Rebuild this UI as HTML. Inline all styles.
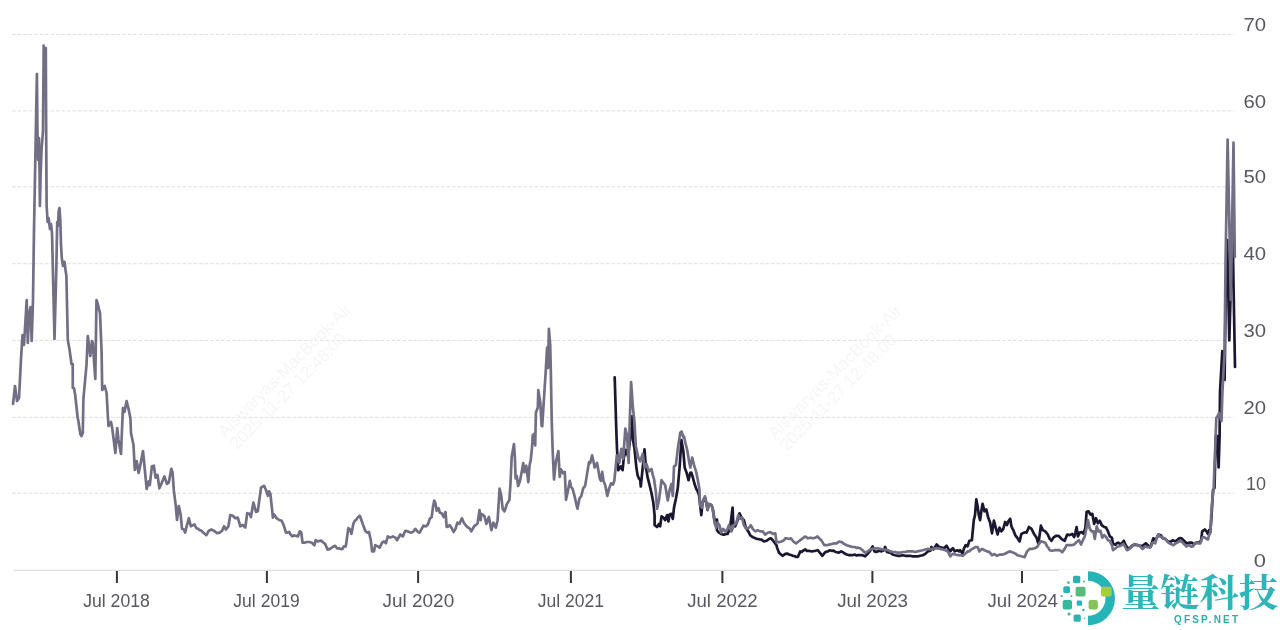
<!DOCTYPE html>
<html><head><meta charset="utf-8"><title>Chart</title>
<style>
html,body{margin:0;padding:0;background:#fff;}
body{width:1280px;height:630px;overflow:hidden;}
svg{display:block;}
.grid line{stroke:#dedede;stroke-width:1;stroke-dasharray:3.7 1.8;}
.wm text{font-family:'Liberation Sans',sans-serif;font-size:17px;fill:#f6f6f6;}
.axis{stroke:#e0e0e0;stroke-width:1.3;}
.ticks line{stroke:#35353b;stroke-width:2;}
.lab text{font-family:'Liberation Sans',sans-serif;font-size:17.6px;fill:#58575f;}
.ylab text{text-anchor:end;}
.xlab text{text-anchor:middle;}
.s{fill:none;stroke-width:2.7;stroke-linejoin:round;stroke-linecap:round;}
</style></head><body>
<svg width="1280" height="630" viewBox="0 0 1280 630">
<rect width="1280" height="630" fill="#fff"/>
<g class="grid"><line x1="12" y1="34.4" x2="1234" y2="34.4"/><line x1="12" y1="110.9" x2="1234" y2="110.9"/><line x1="12" y1="186.8" x2="1234" y2="186.8"/><line x1="12" y1="263.7" x2="1234" y2="263.7"/><line x1="12" y1="340.4" x2="1234" y2="340.4"/><line x1="12" y1="417.4" x2="1234" y2="417.4"/><line x1="12" y1="493.2" x2="1234" y2="493.2"/></g>
<g class="wm"><g transform="translate(225,438) rotate(-45)"><text x="0" y="0">Aiswaryas-MacBook-Air</text><text x="-0.5" y="17">2025-11-27 12:48:00</text></g><g transform="translate(775,439.5) rotate(-45)"><text x="0" y="0">Aiswaryas-MacBook-Air</text><text x="-0.5" y="17">2025-11-27 12:48:00</text></g></g>
<line class="axis" x1="13.5" y1="570.4" x2="1235" y2="570.4"/>
<g class="ticks"><line x1="116.9" y1="571" x2="116.9" y2="583"/><line x1="266.9" y1="571" x2="266.9" y2="583"/><line x1="418.1" y1="571" x2="418.1" y2="583"/><line x1="570.9" y1="571" x2="570.9" y2="583"/><line x1="722.4" y1="571" x2="722.4" y2="583"/><line x1="872.4" y1="571" x2="872.4" y2="583"/><line x1="1022" y1="571" x2="1022" y2="583"/></g>
<polyline class="s" stroke="#1b1731" points="614.7,377.3 616.3,430 617,448.8 618.2,470.2 620.7,466.4 622.6,470.2 623.8,457.6 626,450 628,456 630,440 632,416.4 633,440 634.5,448.8 636.4,467.6 637.6,475.2 638.9,478.52 640.2,480.2 640.8,486.5 642.7,467.6 644.5,449.4 645.8,466.4 647.7,477.7 649.6,485.2 651.4,492.7 653.3,502.5 654.6,515.1 654.6,525.1 657.1,527 659,523.9 660.2,526.4 661.5,516.3 663.4,517.6 665.2,520.1 667.1,515.1 668.4,521.4 669.6,514.5 671.5,513.8 672.8,518.9 674,507.6 675.9,498.8 677.8,488 679.7,466 681.4,440 683.4,452 684.7,467.6 686.6,472.7 688.5,480.2 690.3,472.7 691.3,472.5 693,478 694.65,484.31 696.3,489 697.7,491.3 699.1,495.2 701.3,515.1 702.5,502.6 705,497.6 706.3,503.05 707.6,510 708.8,504 711.3,505 712.6,508 714.5,520 717,519.5 717,530.2 718.43,532.07 719.87,533.16 721.3,534 722.9,534.61 724.5,534.6 726.05,533.95 727.6,534 730.1,527.7 732.6,507.6 733.3,523.9 735.1,526.4 737.6,520.2 739.5,513.3 741.4,517.6 743.9,520.2 745.8,527.7 748.3,531.4 750.2,535.2 752.7,537.1 755.2,538.3 756.75,538.84 758.3,539 759.9,539.49 761.5,539.6 764,541.5 766.5,540.8 769,539 770.9,538.3 772.8,540.2 774.6,542.7 776.5,545.2 777.1,547.6 779,552.7 780.9,554.4 782.8,555.8 785.3,553.9 787.2,553.59 789.1,554.5 790.95,555.03 792.8,555.8 794.47,556.01 796.13,557 797.8,557 800.3,551.4 801.6,551.99 802.9,550.8 805.4,549.5 806.95,550.96 808.5,550.8 810.4,551.18 812.3,551.4 813.85,551 815.4,550.8 817.9,550.2 819.8,552.7 822.3,555.8 824.8,552.7 826.35,551.63 827.9,551.4 829.8,550.26 831.7,550.8 833.6,550.55 835.5,552 837.05,552.29 838.6,552.7 841.1,551.4 842.65,552.02 844.2,553.3 846.7,554.5 849.2,555.2 850.85,554.98 852.5,555.2 855,554.5 856.3,555.56 857.6,555.2 860.1,555.2 862.6,555.2 865.1,556.4 867.6,553.9 870.1,550.8 872.6,546.4 874.5,551.4 876.4,552 878.9,550.8 881.4,551.4 883.9,550.2 885.1,547 887,552 888.6,552.4 890.2,552.7 892.7,554.5 895.2,555.2 897.7,555.8 900.2,555.8 902.7,555.2 905.2,555.8 907.7,555.8 910.2,555.8 912.7,556.4 915.2,556.4 917.7,556.4 920.3,555.8 922.8,555.2 925.3,553.9 927.8,551.4 930.3,550.8 931.5,547 933.4,549.5 935,547.11 936.6,544.5 939.1,547 941.6,547.6 944.1,548.3 946.6,545.8 949.1,550.2 950.3,551.4 951.6,549.38 952.9,548.3 954.7,551.4 957.2,550.2 959.1,551.4 960,550.2 962.5,553.3 964.05,548.39 965.6,545.2 967.5,546.4 969.4,540.8 971.9,540.2 973.8,520.1 975,515.1 976.3,499.4 977.6,506.3 978.8,515.1 980.1,520.1 981.3,511.3 982.6,503.8 984.5,511.3 986.3,509.4 988.2,517.6 990.1,522.6 992,533.3 993.9,520.7 995.7,527.6 997.6,534.5 999.5,527.6 1001.4,531.4 1003.3,528.9 1005.1,522 1007,525.1 1008.3,521.3 1010.2,518.8 1011.4,526.4 1013.3,530.1 1015.2,535.1 1017.1,537.6 1019.6,541.4 1021.4,533.9 1023.9,532.6 1025.2,532.29 1026.5,532.6 1029,527 1031.5,528.9 1034,533.9 1036.5,537.6 1038.4,543.9 1040.9,525.7 1042.8,530.1 1045.3,531.4 1047.8,534.5 1049.7,538.9 1051.5,540.8 1053.4,537.6 1055.9,535.8 1058.4,535.8 1060.3,537.6 1062.2,539.5 1064.7,540.8 1067.2,534.5 1069.7,535.1 1072.2,533.9 1074.1,537 1075.4,532.6 1076.6,527 1077.9,536.4 1079.7,532.6 1081.6,532 1083.5,533.9 1085.4,527.6 1086.6,511.9 1088.5,511.3 1090.4,514.5 1092.3,513.8 1094.2,523.9 1096,518.2 1097.9,523.2 1099.8,520.7 1101.7,525.1 1104.2,527 1106.1,527.6 1108,531.4 1109.8,536.4 1111.9,537.7 1113.1,544 1115.6,544.6 1116.9,543 1118.2,542.7 1120,544 1121.9,543.3 1123.8,540.8 1125.7,545.2 1127.6,548.3 1130.1,547.7 1132.6,545.2 1135.1,544.6 1137.6,545.2 1140.1,545.8 1142.6,545.8 1144.2,544.57 1145.8,543.3 1148.3,545.8 1150.8,546.5 1153.3,538.3 1155.2,539.6 1156.75,537.95 1158.3,534.5 1160.8,535.2 1162.7,538.3 1165.2,538.9 1167.7,541.4 1170.2,542.1 1172.7,540.2 1175.2,541.4 1176.8,540.46 1178.4,538.9 1179.95,538.03 1181.5,538.3 1184,540.8 1186.5,543.3 1189,542.7 1191.6,542.7 1194.1,544 1196.6,542.7 1199.1,542.7 1201,540.8 1202.2,531.4 1204.7,529.5 1206.6,531.4 1207.9,533.9 1209.1,530.2 1210.4,531.4 1211.6,515 1213,490 1214.5,488 1215.8,436 1217.5,436 1218.6,467.5 1219.6,436 1220,392 1221.5,365 1222.3,351 1223.3,360 1224.6,380 1225.6,300 1227.2,240 1229.3,340.5 1232.5,227 1235,367"/>
<polyline class="s" stroke="#726f85" points="13,404 15,386 17,401 19,398 21,359 22.5,335 24,345 26.7,300 27.8,343 29,315 30.5,307 31.7,341 33,300 34,230 35.5,150 36.9,74 37.5,135 38.2,160 39,138 39.6,175 39.9,206 40.6,175 41.5,150 43,131 43.7,45.5 44.7,72 45.8,48 46.1,120 46.6,205 47.6,222 48.6,218 50,229 51,224 52,233 52.9,270 54.5,339 56.3,270 57.2,222 58,226 58.7,211 59.5,208 60.4,222 61,245 61.8,258 63,266 64.5,262 65.5,270 66.4,276 67.8,340 69.6,350 71.5,364 72.7,364 72.8,388 74,388 75.2,395 77.7,418 78.4,421 80.3,434 81.5,436 82.8,433 83.4,399 86.5,365 87.8,336 90.3,356 92,341 92.8,343 95.3,379 96.5,300 98,305 100,313 101.6,352 102.2,390 104.7,386 106.6,393 107.8,415 108.5,426 111,422 112.2,428 115.4,453 117.2,428 118.5,440 121,454 122.9,408 124.5,412 126.6,401 128.5,408.84 130.4,418 131,433 133.5,445 134.8,470 136.7,461 138.6,473 140.07,466.29 141.53,458.81 143,451 146.7,489 148.6,481.5 149.8,485 151.9,466.3 153.8,465.7 155.6,477.6 157.5,475 159.4,488.3 161.9,482.6 164.4,476.4 166.9,483.9 168.8,482.6 171.3,468.8 172.6,472.6 173.8,490.2 175.7,505.2 177,520 178.8,506 180.7,515 182,528.8 183.9,529.5 185.1,532.6 187,525 188.9,518.2 190.8,526.3 193.3,525 194.5,524.5 196.4,528.2 197.95,528.66 199.5,530 201.4,530.7 203.9,533.2 206.4,535.1 208.9,530.7 211.4,529.5 213.9,530.7 215.5,531.94 217.1,533.2 219.6,532.6 222.1,530.7 224,526.3 225.9,529.5 228.4,526.3 230.3,515 232.8,515.7 235.3,518.2 237.8,517.6 240.3,526.3 242.8,525 245.3,527.6 247.2,513.2 249.7,513.8 250.9,517 253.4,502.5 256,511.9 257.8,511.3 261,487.6 262.55,486.61 264.1,485.8 266,490 267.9,495.8 269.1,491.4 270.4,494 272.9,517.6 274.1,514.4 276.6,518.2 279.2,520 281.7,520.7 283.6,525 286,532.6 287.6,532.57 289.2,532 290.75,534.72 292.3,536.4 293.9,535.32 295.5,535.7 298,536.4 299.8,531.3 301.3,532.6 302.5,542.7 304.4,542.7 306.9,542 309.4,542 311.9,542.7 314.4,545.2 315.7,540.2 317.6,541.4 320,540.8 321.3,540.55 322.6,542 325.1,543.9 327.6,549.6 330.1,548.9 332.6,547 335.1,545.8 337,548.3 339.5,548.3 341.05,549.2 342.6,548.9 343.9,546.4 345.8,546.4 348.3,528.2 350.2,529.5 351.4,533.9 353.3,523.9 354.5,521.3 356.4,519.5 357.7,517.6 359.6,515.7 360.8,518.2 362.7,523.9 365.2,530.8 367.1,532.6 369,532 370.8,540.2 372.1,551.4 374,551.4 375.2,545.2 377.7,546.4 379.6,547.7 382.1,542.7 384,541.4 385.9,543.3 387.8,536.4 390.3,537.6 392.8,536.4 395.3,537.6 397.2,540.2 398.75,537.23 400.3,534.5 402.8,536.4 405.3,530.8 407.8,531.4 410.3,532.6 412.9,532 415.4,528.9 417.9,532 419.7,532.6 421.6,528.9 423.5,525.7 426,526.4 427.9,524.5 429.8,518.8 431.7,517 432.9,507.6 434.2,500.7 435.4,503.2 436.7,510.7 438.6,508.2 439.8,512.6 441.7,513.2 443.6,517 445.5,511.9 446.7,527 448.25,526.52 449.8,525.1 451.7,528.2 453.6,532 455.5,528.9 457.4,522.6 459.4,523.9 461.9,518.3 463.8,522.7 465.7,525.2 468.2,527.7 469.75,528.65 471.3,531.4 472.9,528.5 474.5,525.8 476.05,524.95 477.6,523.3 479.5,510.1 480.7,520.2 481.3,513.9 482.9,514.66 484.5,516.4 486.4,523.9 488.9,517 491.4,530.2 493.3,522.7 495.8,527.7 497.6,520.2 499.6,488.7 501.2,495.5 502.7,508.9 504.5,511.4 507,503.9 509.4,500 510.5,483.5 511.7,456.8 514,444.1 514.9,458.1 515.6,478.4 516.8,475.9 518.1,486 520,481 521.9,470.8 523.2,463.2 524.4,472.1 526.3,465.7 528.3,482.2 529.5,465.7 530.8,459.4 532.1,446.7 532.7,435.2 534,434 535.2,445.4 535.9,412.6 537.8,407.5 538.3,390.2 540.3,402.5 541.6,425.7 542.2,426.3 543.4,407.5 545.8,370.2 547.1,347.6 548,368 548.9,328.8 550.2,345 550.8,370.2 551.7,420 552.7,451.6 554,479.5 555.9,461.7 558.4,451 559.7,477 561,469.4 562.9,473.2 564.8,471.9 566,499.8 567.9,491 569.8,480.8 571.1,487.1 572.4,488.4 574.9,497.3 576.2,503.8 577.5,508.7 579.4,498.6 581.3,496 583.2,488.4 585.1,485.9 587,474.4 588.9,462.4 590.2,463 592.1,455.4 593.3,460.5 594.6,467.5 597.1,463 598.4,470.6 599.7,478.3 601,480.8 602.2,471.9 603.5,480.8 605.4,485.9 607.3,496 609.2,488.4 611.1,483.3 613,484.6 614.3,480.8 615.6,468.1 616.8,455.4 618.1,460.5 619.4,462.6 621.3,448.8 623.2,458.9 625.3,428.5 627,435 628.6,463 629.8,420 631.1,382 632.9,407.6 634.5,422.7 635.8,446.3 638.3,457.6 640.2,461.4 642.7,453.8 644.5,467.6 646.4,463.9 648.9,471.4 651.4,468.9 652.7,474.62 654,478.9 655.8,491.5 657.1,508.8 659,500 661.5,480.2 663.4,482.7 665.2,485.2 667.8,500.5 669.6,490.2 671.5,484 672.8,496 674,466.4 675.9,465.1 677.8,448.8 680.3,432.5 681.6,431.5 683.4,437.5 684.1,436.5 685.3,442.5 687.2,450 689.1,461.4 690.3,467.6 692.2,457.6 694.1,465.1 696,471.4 697.9,480.2 698.2,482.5 699.4,488.8 700,505.1 701.9,507.6 703.2,500.1 705,496.3 706.3,502.36 707.6,510.1 708.8,503.9 711.3,505.1 712.6,507.6 714.5,522.7 716.3,527.7 717.6,522.7 719.5,525.2 721.3,532.7 723.2,528.9 725.1,531.4 727,530.2 728.9,525.2 731.4,531.4 733.9,525.2 736.4,522.7 738.3,515.1 740.2,518.9 742,517.6 743.9,525.2 746.4,528.9 748.9,527.7 750.8,525.2 752.7,528.9 755.2,531.4 757.7,530.2 760.2,531.4 762.7,531.4 765.2,534.6 767.7,532.7 770.3,532.1 772.8,533.9 775.3,533.3 776.5,542.1 779,542.1 781.5,541.5 784,540.2 785.3,538.4 786.6,538.3 789.1,539 790.9,538.3 793.4,541.5 794.7,542.52 796,543.4 798.5,541.5 801,539.6 803.5,537.7 805.4,536.5 807.9,538.3 810.4,537.7 812.9,538.3 815.4,537.7 817.3,536.5 819.2,538.3 821.7,540.8 824.2,545.2 826.7,545.2 829.2,544.6 831.7,544 834.2,543.4 836.7,543.4 839.2,541.5 841.7,542.1 844.2,544 846.7,545.2 849.2,546 850,546.4 852.5,547 855,547 856.3,548.09 857.6,547.6 860.1,548.3 862.6,550.2 865.1,552.7 867.6,551.4 870.1,549.5 872.6,548.9 875.1,548.3 877.6,548.3 880.1,548.9 882.6,549.5 885.1,549.5 887.6,550.2 888.9,550.59 890.2,551.4 892.7,552 895.2,552 897.7,552.7 900.2,552.7 902.7,552 905.2,552 907.7,551.4 910.2,551.4 912.7,551.4 915.2,552 917.7,551.4 920.3,550.8 922.8,550.2 925.3,549.5 927.8,548.9 930.3,549.5 932.8,548.9 935.3,548.3 937.8,548.3 940.3,548.9 942.8,549.5 945.3,550.2 947.8,551.4 950.3,556.4 951.6,554.64 952.9,553.9 955.4,554.5 957.9,555.2 960.4,555.2 962.9,555.8 964.6,554.11 966.3,552.7 967.85,551.2 969.4,551.4 970.95,549.65 972.5,548.9 974.1,547.84 975.7,547 977.6,547 979.4,551.4 981.9,548.9 983.2,549.54 984.5,550.2 987,551.4 989.5,552.1 992,555.2 994.5,554 997,555.8 999.5,554.6 1002,554.6 1004.5,554 1007,552.7 1009.5,551.4 1012,552.1 1014.5,553.3 1015.8,553.77 1017.1,555.2 1019.6,555.8 1022.1,556.5 1024.6,557.1 1027.1,551.4 1029.6,548.9 1032.1,548.9 1034.6,548.3 1037.1,547 1039,543.9 1040.9,541.4 1043.4,542 1045.3,542.7 1047.1,546.4 1048.4,547.82 1049.7,550.2 1052.2,550.8 1054.7,550.2 1057.2,550.2 1059.7,550.2 1062.2,552.1 1064.7,548.9 1066.6,545.2 1069.1,545.2 1071.6,545.2 1074.1,544.5 1076.6,542 1079.1,540.2 1081,544.5 1082.9,540.2 1084.8,536.4 1086.6,527.6 1087.9,520.1 1089.8,528.9 1091.7,531.4 1093.5,531.4 1094.8,538.9 1096.7,526.4 1098.6,531.4 1100.4,530.8 1102.3,537.6 1104.2,535.1 1106.1,537 1108,540.2 1109.8,540.8 1111.9,545.2 1113.1,550.2 1115.6,548.3 1116.9,546.89 1118.2,546.5 1120.7,545.8 1123.2,543.9 1125.1,546.5 1126.9,550.2 1129.4,549 1132,546.5 1134.5,544 1137,544.6 1139.5,545.8 1141.05,547.33 1142.6,549 1145.1,546.5 1147.6,547.1 1148.9,547.02 1150.2,547.7 1152.7,542.7 1155.2,543.3 1156.75,538.04 1158.3,534.5 1159.85,536.41 1161.4,537.1 1164,538.3 1165.8,539.6 1168.3,542.7 1169.6,543.45 1170.9,544 1173.4,545.2 1175.9,543.3 1177.45,542.61 1179,541.4 1181.5,541.4 1184,544 1186.5,546.5 1188.1,545.28 1189.7,545.2 1191.25,546.74 1192.8,546.5 1195.3,542.7 1197.8,543.3 1200.3,543.3 1202.2,537.7 1204.1,537.1 1206.6,538.9 1207.9,539.6 1209.1,535.2 1210.4,532.7 1211.2,515 1212.3,500 1213.7,488 1214.3,470 1215.5,440 1216.3,418 1217.65,416.15 1219,413 1221.5,421 1222.3,395 1223.5,370 1224.5,355 1225.6,260 1227.6,139.5 1229.5,230 1230.8,300 1231.5,260 1233.5,142.5 1234.8,257"/>
<g class="lab ylab"><text x="1266" y="31.0" textLength="22.6" lengthAdjust="spacingAndGlyphs">70</text><text x="1266" y="107.5" textLength="22.6" lengthAdjust="spacingAndGlyphs">60</text><text x="1266" y="183.4" textLength="22.6" lengthAdjust="spacingAndGlyphs">50</text><text x="1266" y="260.3" textLength="22.6" lengthAdjust="spacingAndGlyphs">40</text><text x="1266" y="337.0" textLength="22.6" lengthAdjust="spacingAndGlyphs">30</text><text x="1266" y="414.0" textLength="22.6" lengthAdjust="spacingAndGlyphs">20</text><text x="1266" y="489.8" textLength="20" lengthAdjust="spacingAndGlyphs">10</text><text x="1266" y="566.9" textLength="12.2" lengthAdjust="spacingAndGlyphs">0</text></g>
<g class="lab xlab"><text x="116.5" y="606.6" textLength="66.5" lengthAdjust="spacingAndGlyphs">Jul 2018</text><text x="266.5" y="606.6" textLength="66.3" lengthAdjust="spacingAndGlyphs">Jul 2019</text><text x="418.4" y="606.6" textLength="71.6" lengthAdjust="spacingAndGlyphs">Jul 2020</text><text x="570.8" y="606.6" textLength="66.2" lengthAdjust="spacingAndGlyphs">Jul 2021</text><text x="722.4" y="606.6" textLength="70.5" lengthAdjust="spacingAndGlyphs">Jul 2022</text><text x="872.6" y="606.6" textLength="70.9" lengthAdjust="spacingAndGlyphs">Jul 2023</text><text x="1022.75" y="606.6" textLength="70.4" lengthAdjust="spacingAndGlyphs">Jul 2024</text></g>

<g id="logo">
  <rect x="1059" y="569.9" width="221" height="61" fill="#fff"/>
  <path d="M1088,571.3 A27,27 0 0 1 1088,625.3 L1088,615.8 A17.5,17.5 0 0 0 1088,580.8 Z" fill="#27b4b6"/>
  <rect x="1101" y="586.7" width="10.6" height="9.8" rx="2" fill="#a9cb3c"/>
  <rect x="1088.6" y="600.1" width="9.2" height="9.3" rx="2" fill="#86c25a"/>
  <rect x="1075.6" y="586.7" width="9.9" height="9.8" rx="2" fill="#57bb7c"/>
  <rect x="1073" y="575.8" width="7.3" height="7.2" rx="1.5" fill="#2bb0b2"/>
  <rect x="1063.3" y="586.2" width="6.7" height="6.7" rx="1.5" fill="#2cb0b6"/>
  <rect x="1062.7" y="600.1" width="9.3" height="9.3" rx="2" fill="#33b99e"/>
  <rect x="1076.7" y="600.6" width="5.3" height="5.2" rx="1.2" fill="#2cb4c0"/>
  <rect x="1073.6" y="614.6" width="7.2" height="7.2" rx="1.5" fill="#2bb3b3"/>
  <circle cx="1068.4" cy="582.6" r="1.3" fill="#3ab58a"/>
  <circle cx="1083.9" cy="581.5" r="0.9" fill="#3ab58a"/>
  <circle cx="1061.7" cy="596" r="1.1" fill="#3ab58a"/>
  <circle cx="1071.5" cy="596" r="0.9" fill="#3ab58a"/>
  <circle cx="1083.4" cy="609.9" r="1.2" fill="#2eb0a8"/>
  <circle cx="1069" cy="614" r="1.5" fill="#3ab58a"/>
  <circle cx="1084.4" cy="618.2" r="0.8" fill="#3ab58a"/>
  <text x="1121" y="606" font-family="'Liberation Serif','Noto Serif CJK SC',serif" font-weight="700" font-size="38" fill="#2db5b8" textLength="157" lengthAdjust="spacingAndGlyphs">量链科技</text>
  <text x="1174" y="622.6" font-family="'Liberation Sans',sans-serif" font-size="10" font-weight="700" fill="#33aca4" textLength="64" lengthAdjust="spacing">QFSP.NET</text>
</g>
</svg>
</body></html>
